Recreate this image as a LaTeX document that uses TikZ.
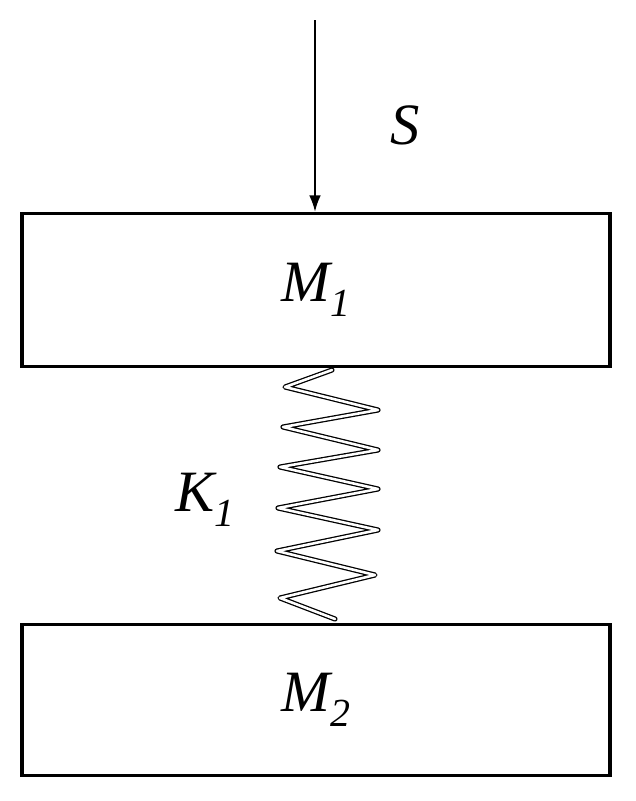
\documentclass[tikz,border=0pt]{standalone}
\usepackage{fontspec}
\setmainfont{Liberation Serif}
\usetikzlibrary{arrows.meta}
\tikzstyle{mass}=[draw,line width=3pt]
\tikzstyle{lbl}=[font=\fontsize{50}{60}\selectfont\itshape]
\tikzstyle{spring}=[line width=1.1pt,double=white,double distance=2.2pt,line join=round,line cap=round]

\begin{document}
\begin{tikzpicture}[x=0.03cm,y=-0.03cm]
  \useasboundingbox (0,0) rectangle (635,801);
  \node[mass,minimum width=588*0.03cm,minimum height=153*0.03cm] (m1) at (316,290) {};
  \node[mass,minimum width=588*0.03cm,minimum height=151*0.03cm] (m2) at (316,700) {};
  \node[lbl] at (m1) {M\raisebox{-0.25em}{\fontsize{34}{40}\selectfont 1}};
  \node[lbl] at (m2) {M\raisebox{-0.25em}{\fontsize{34}{40}\selectfont 2}};
  \coordinate (top) at (315,20);
  \node[lbl] (s) at (405,125) {S};
  \node[lbl] (k1) at (205,500) {K\raisebox{-0.25em}{\fontsize{34}{40}\selectfont 1}};
  \draw[line width=1.5pt,-{Latex[length=14pt,width=10pt]}] (top) -- (m1.north -| top);

  % spring
  \draw[spring] (332,370) -- (285,387) -- (378,410) -- (283,427) -- (378,450)
    -- (280,467) -- (378,489) -- (278,508) -- (378,530) -- (277,551)
    -- (375,575) -- (280,598) -- (335,619);
\end{tikzpicture}
\end{document}
